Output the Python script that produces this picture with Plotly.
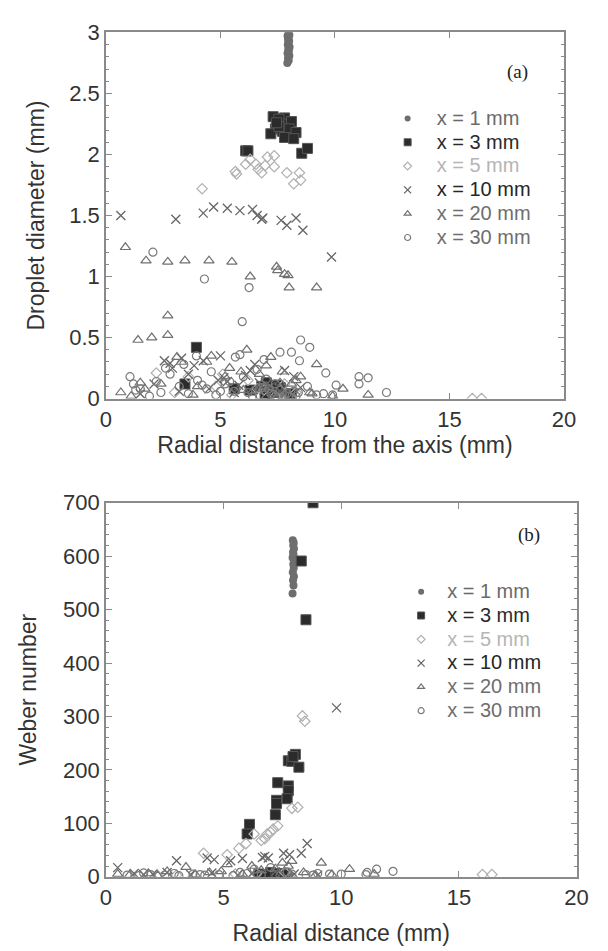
import plotly.graph_objects as go

# ---- panel (a): droplet diameter vs radial distance ----
diam_r_1 = [7.92, 7.98, 7.95, 8.01, 7.93, 7.99, 7.96, 8.02, 7.94, 7.97, 8.00, 7.95, 7.98, 7.93, 8.01, 7.96, 7.99,
            7.1, 7.4, 7.6, 7.8, 6.9, 7.5, 7.2, 7.7, 8.0]
diam_d_1 = [2.75, 2.77, 2.79, 2.81, 2.83, 2.85, 2.86, 2.88, 2.90, 2.91, 2.93, 2.94, 2.96, 2.97, 2.98, 2.99, 3.0,
            0.05, 0.08, 0.03, 0.06, 0.10, 0.12, 0.02, 0.11, 0.04]

diam_r_3 = [7.3, 7.4, 7.2, 7.8, 7.9, 7.7, 8.1, 8.0, 7.8, 8.3, 8.2, 7.55, 7.55, 7.45, 6.1, 6.2, 8.55, 8.8,
            3.95, 3.45, 5.6, 7.0, 7.15, 6.3, 7.6, 8.1, 6.8, 7.3, 6.95, 7.45]
diam_d_3 = [2.31, 2.21, 2.17, 2.30, 2.25, 2.19, 2.27, 2.21, 2.14, 2.18, 2.13, 2.29, 2.23, 2.26, 2.03, 2.03, 2.01, 2.05,
            0.42, 0.12, 0.08, 0.13, 0.07, 0.07, 0.09, 0.04, 0.10, 0.05, 0.03, 0.11]

diam_r_5 = [4.2, 5.65, 5.7, 6.1, 6.3, 6.55, 6.65, 6.8, 6.95, 7.05, 7.35, 7.35, 7.9, 8.2, 8.45, 8.5,
            2.2, 16.0, 16.4, 3.0, 4.8, 5.5, 6.2, 6.9, 7.4, 7.8, 8.3, 3.6, 5.1, 6.6]
diam_d_5 = [1.72, 1.86, 1.84, 1.92, 1.96, 1.92, 1.88, 1.85, 1.91, 1.98, 1.99, 1.90, 1.85, 1.76, 1.85, 1.79,
            0.21, 0.0, 0.0, 0.05, 0.10, 0.03, 0.15, 0.07, 0.02, 0.12, 0.05, 0.18, 0.20, 0.08]

diam_r_10 = [0.65, 3.05, 4.25, 4.7, 5.3, 5.85, 6.4, 6.6, 6.8, 6.85, 7.65, 7.9, 8.3, 8.6, 9.85,
             2.55, 2.8, 3.3, 3.85, 4.25, 5.0, 5.15, 5.3, 6.3, 6.5, 7.8, 8.2, 2.1, 2.9, 4.5, 5.6, 6.1,
             7.2, 7.6, 8.5, 1.5, 3.6, 4.9, 6.9, 7.4, 5.8, 3.2, 6.7, 7.1, 7.9]
diam_d_10 = [1.50, 1.47, 1.52, 1.57, 1.56, 1.54, 1.55, 1.50, 1.47, 1.48, 1.46, 1.42, 1.48, 1.38, 1.16,
             0.31, 0.29, 0.33, 0.27, 0.31, 0.35, 0.17, 0.14, 0.23, 0.28, 0.23, 0.18, 0.12, 0.25, 0.08, 0.05, 0.19,
             0.10, 0.06, 0.09, 0.04, 0.20, 0.15, 0.07, 0.03, 0.11, 0.06, 0.13, 0.09, 0.02]

diam_r_20 = [0.85, 1.75, 2.7, 3.45, 4.5, 5.5, 6.3, 7.45, 7.5, 7.8, 7.95, 8.0, 9.2,
             2.7, 2.7, 2.0, 1.4, 0.65, 1.1, 1.5, 6.15, 7.2, 9.2, 11.45, 10.35, 3.1, 3.3, 4.6, 4.4,
             5.4, 5.9, 6.7, 7.0, 8.3, 8.5, 8.9, 1.7, 2.4, 3.8, 4.0, 5.2, 6.0, 7.7, 8.1, 9.0, 9.9,
             6.4, 6.9, 7.3, 7.6]
diam_d_20 = [1.24, 1.13, 1.12, 1.13, 1.13, 1.12, 1.00, 1.08, 1.05, 1.02, 1.01, 0.91, 0.91,
             0.68, 0.52, 0.50, 0.48, 0.05, 0.02, 0.13, 0.40, 0.34, 0.28, 0.03, 0.08, 0.34, 0.30, 0.35, 0.30,
             0.25, 0.22, 0.20, 0.27, 0.15, 0.18, 0.05, 0.08, 0.12, 0.03, 0.10, 0.18, 0.07, 0.22, 0.12, 0.04, 0.02,
             0.06, 0.10, 0.04, 0.13]

diam_r_30 = [2.05, 4.3, 6.25, 5.95, 8.5, 8.9, 8.1, 7.6, 6.9, 9.6, 10.05, 11.05, 11.45, 11.05, 12.25,
             1.05, 3.95, 5.65, 5.85, 8.45, 9.5, 9.9,
             1.2, 1.5, 1.9, 2.4, 2.8, 3.2, 3.6, 4.0, 4.4, 4.8, 5.2, 5.6, 6.0, 6.4, 6.8, 7.2, 7.6, 8.0,
             8.4, 8.8, 9.2, 2.6, 3.4, 4.6, 5.4, 6.6, 7.0, 7.4, 7.8, 8.2, 1.3, 2.2,
             6.2, 6.7, 7.1, 7.5, 7.9, 8.3, 5.0, 4.2]
diam_d_30 = [1.20, 0.98, 0.91, 0.63, 0.48, 0.42, 0.38, 0.38, 0.32, 0.21, 0.11, 0.12, 0.17, 0.18, 0.05,
             0.18, 0.35, 0.34, 0.36, 0.31, 0.04, 0.03,
             0.12, 0.08, 0.02, 0.05, 0.20, 0.10, 0.04, 0.15, 0.08, 0.03, 0.12, 0.06, 0.18, 0.02, 0.09, 0.04,
             0.07, 0.02, 0.05, 0.10, 0.03, 0.25, 0.28, 0.22, 0.14, 0.24, 0.16, 0.12, 0.03, 0.06, 0.07, 0.14,
             0.05, 0.03, 0.08, 0.01, 0.04, 0.02, 0.06, 0.11]

# ---- panel (b): Weber number vs radial distance ----
web_r_1 = [7.93, 7.97, 7.95, 7.99, 7.94, 7.98, 7.96, 8.0, 7.93, 7.97, 7.95, 7.99, 7.96, 7.98, 7.94,
           7.1, 7.5, 7.8, 6.8]
web_w_1 = [530, 545, 555, 562, 570, 578, 585, 590, 597, 603, 608, 614, 620, 625, 630,
           3, 5, 2, 4]

web_r_3 = [8.8, 8.3, 8.5, 8.05, 7.75, 7.9, 8.2, 7.95, 7.3, 7.75, 7.75, 7.7, 7.25, 7.25, 7.2, 6.1, 6.0,
           6.5, 7.0, 7.3, 7.6, 6.8]
web_w_3 = [700, 591, 481, 229, 217, 216, 205, 225, 176, 170, 161, 146, 143, 137, 116, 98, 80,
           5, 8, 6, 4, 3]

web_r_5 = [8.35, 8.45, 7.9, 8.15, 7.3, 7.1, 6.85, 6.75, 6.6, 6.3, 5.95, 5.65, 5.15, 4.15, 7.0, 16.0, 16.4,
           3.0, 5.5, 6.4, 7.6, 2.2]
web_w_5 = [301, 291, 128, 130, 95, 89, 80, 71, 68, 80, 62, 53, 41, 44, 83, 4, 4,
           3, 5, 6, 8, 2]

web_r_10 = [9.8, 8.55, 8.3, 7.8, 7.55, 6.75, 6.65, 5.8, 5.3, 4.6, 4.3, 3.0, 0.5,
            6.9, 1.2, 2.0, 2.6, 3.6, 4.5, 5.6, 6.2, 7.2, 8.0, 9.0, 1.6]
web_w_10 = [316, 62, 44, 41, 44, 38, 36, 34, 30, 32, 35, 30, 17,
            35, 6, 5, 8, 4, 7, 3, 6, 9, 5, 3, 4]

web_r_20 = [9.15, 10.35, 7.9, 7.5, 5.15, 6.2, 3.4, 0.5, 7.75, 11.4,
            1.0, 1.8, 2.6, 3.8, 4.4, 5.8, 6.6, 7.2, 8.4, 9.6, 2.2, 4.9, 8.9]
web_w_20 = [26, 14, 29, 26, 23, 20, 18, 5, 20, 5,
            3, 6, 10, 4, 8, 5, 12, 15, 8, 4, 2, 10, 3]

web_r_30 = [12.2, 11.5, 11.1, 11.05, 9.5, 10.0, 6.3, 7.0,
            0.9, 1.4, 1.9, 2.5, 3.1, 3.7, 4.2, 4.8, 5.4, 6.0, 6.6, 7.4, 7.9, 8.5, 9.0, 1.6, 2.9, 4.0, 5.7, 7.7, 8.8]
web_w_30 = [10, 14, 8, 4, 5, 5, 14, 17,
            3, 2, 4, 3, 2, 5, 3, 4, 2, 6, 3, 2, 5, 4, 6, 7, 6, 4, 8, 9, 3]

labels = ["x = 1 mm", "x = 3 mm", "x = 5 mm", "x = 10 mm", "x = 20 mm", "x = 30 mm"]
label_colors = ["#6a6a6a", "#2a2a2a", "#b5b5b5", "#262626", "#6e6e6e", "#6e6e6e"]

styles = [
    dict(symbol="circle", size=8, color="#6e6e6e", line=dict(width=0)),
    dict(symbol="square", size=10, color="#2b2b2b", line=dict(width=1, color="#555")),
    dict(symbol="diamond-open", size=8, color="#b0b0b0", line=dict(width=1.2)),
    dict(symbol="x-thin-open", size=9, color="#666666", line=dict(width=1.3)),
    dict(symbol="triangle-up-open", size=9, color="#707070", line=dict(width=1.2)),
    dict(symbol="circle-open", size=8, color="#7a7a7a", line=dict(width=1.2)),
]
legend_sizes = [6, 7, 6, 7, 6, 6]

diam_sets = [(diam_r_1, diam_d_1), (diam_r_3, diam_d_3), (diam_r_5, diam_d_5),
             (diam_r_10, diam_d_10), (diam_r_20, diam_d_20), (diam_r_30, diam_d_30)]
web_sets = [(web_r_1, web_w_1), (web_r_3, web_w_3), (web_r_5, web_w_5),
            (web_r_10, web_w_10), (web_r_20, web_w_20), (web_r_30, web_w_30)]


def legend_name(i):
    return f'<span style="color:{label_colors[i]};font-size:20px">{labels[i]}</span>'


fig = go.Figure()
for panel, (sets, xa, ya, leg) in enumerate([(diam_sets, "x", "y", "legend"), (web_sets, "x2", "y2", "legend2")]):
    for i, (rx, ry) in enumerate(sets):
        fig.add_trace(go.Scatter(x=rx, y=ry, mode="markers", marker=styles[i], showlegend=False,
                                 xaxis=xa, yaxis=ya))
    # legend entries with smaller symbols, no data of their own
    for i in range(len(sets)):
        fig.add_trace(go.Scatter(x=[None], y=[None], mode="markers",
                                 marker=dict(styles[i], size=legend_sizes[i]),
                                 name=legend_name(i), xaxis=xa, yaxis=ya, legend=leg))

axis_common = dict(showgrid=False, zeroline=False, showline=True, linecolor="#8a8a8a", linewidth=1.5,
                   mirror="ticks", ticks="inside", ticklen=6, tickcolor="#8a8a8a", tickwidth=1.2,
                   tickfont=dict(family="Liberation Sans, Arial", size=22, color="#333"))
title_font = dict(family="Liberation Sans, Arial", size=23, color="#333")

fig.update_layout(
    width=608, height=951,
    margin=dict(l=0, r=0, t=0, b=0),
    paper_bgcolor="white", plot_bgcolor="white",
    xaxis=dict(axis_common, domain=[0.1694, 0.9457], range=[0, 20], dtick=5, anchor="y",
               title=dict(text="Radial distance from the axis (mm)", font=title_font, standoff=6)),
    yaxis=dict(axis_common, domain=[0.5825, 0.9779], range=[0, 3], dtick=0.5, anchor="x",
               minor=dict(dtick=0.1, ticks="inside", ticklen=3, tickcolor="#8a8a8a"),
               title=dict(text="Droplet diameter (mm)", font=title_font, standoff=18)),
    xaxis2=dict(axis_common, domain=[0.1694, 0.9671], range=[0, 20], dtick=5, anchor="y2",
                title=dict(text="Radial distance (mm)", font=title_font, standoff=16)),
    yaxis2=dict(axis_common, domain=[0.0662, 0.4700], range=[0, 700], dtick=100, anchor="x2",
                minor=dict(dtick=20, ticks="inside", ticklen=3, tickcolor="#8a8a8a"),
                title=dict(text="Weber number", font=title_font, standoff=20)),
    legend=dict(x=384 / 608, y=1 - 92 / 951, xanchor="left", yanchor="top", bgcolor="rgba(0,0,0,0)",
                font=dict(family="Liberation Sans, Arial", size=16), itemsizing="trace",
                tracegroupgap=0, itemwidth=48),
    legend2=dict(x=401 / 608, y=1 - 578 / 951, xanchor="left", yanchor="top", bgcolor="rgba(0,0,0,0)",
                 font=dict(family="Liberation Sans, Arial", size=16), itemsizing="trace",
                 tracegroupgap=0, itemwidth=42),
    annotations=[
        dict(text="(a)", x=540 / 608, y=1 - 48 / 951, xref="paper", yref="paper", showarrow=False,
             font=dict(family="Liberation Serif, Times New Roman", size=19, color="#222")),
        dict(text="(b)", x=552 / 608, y=1 - 537 / 951, xref="paper", yref="paper", showarrow=False,
             font=dict(family="Liberation Serif, Times New Roman", size=19, color="#222")),
    ],
)

fig.write_html("out.html", config={"displayModeBar": False},
               post_script="document.body.style.margin='0';")
